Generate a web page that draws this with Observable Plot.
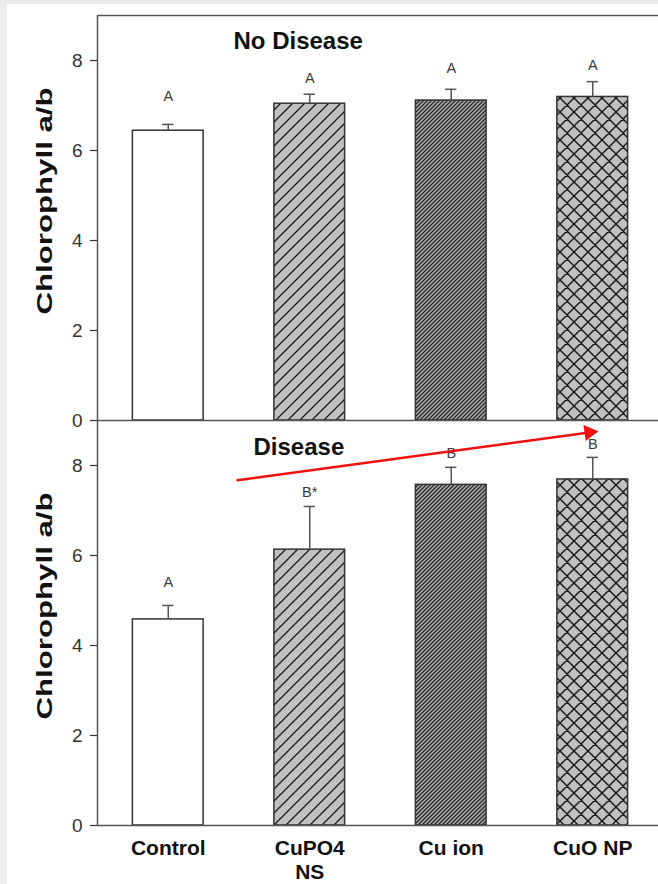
<!DOCTYPE html>
<html><head><meta charset="utf-8">
<script src="https://cdn.jsdelivr.net/npm/d3@7"></script>
<script src="https://cdn.jsdelivr.net/npm/@observablehq/plot@0.6"></script>
<style>
html,body{margin:0;padding:0;background:#ececec;}
#page{position:relative;width:658px;height:884px;overflow:hidden;background:#ececec;}
#sheet{position:absolute;left:7px;top:4px;right:0;bottom:0;background:#fff;}
#top,#bottom{position:absolute;left:0;}
#top{top:0px;}
#bottom{top:415px;}
svg text{font-family:"Liberation Sans",Arial,sans-serif;}
</style></head><body>
<div id="page"><div id="sheet"></div>
<svg width="0" height="0" style="position:absolute"><defs>
<pattern id="pw" patternUnits="userSpaceOnUse" width="12" height="12">
<rect width="12" height="12" fill="#c0c0c0"/>
<path d="M0,12L12,0M-3,3L3,-3M9,15L15,9" stroke="#1a1a1a" stroke-width="1.3"/>
</pattern>
<pattern id="pd" patternUnits="userSpaceOnUse" width="4" height="4">
<rect width="4" height="4" fill="#b0b0b0"/>
<path d="M0,4L4,0M-1,1L1,-1M3,5L5,3" stroke="#262626" stroke-width="1.3"/>
</pattern>
<pattern id="pc" patternUnits="userSpaceOnUse" width="14" height="14">
<rect width="14" height="14" fill="#c0c0c0"/>
<path d="M0,14L14,0M-3,3L3,-3M11,17L17,11M0,0L14,14M-3,11L3,17M11,-3L17,3" stroke="#1a1a1a" stroke-width="1.5"/>
</pattern>
</defs></svg>
<div id="top"></div><div id="bottom"></div></div>
<script>
const categories = ["Control", "CuPO4\nNS", "Cu ion", "CuO NP"];
const yTicks = [0, 2, 4, 6, 8];

const noDiseaseMean = [6.44, 7.04, 7.11, 7.19];
const noDiseaseErr = [0.14, 0.21, 0.25, 0.34];
const noDiseaseLetters = ["A", "A", "A", "A"];
const noDiseaseLetterY = [7.11, 7.51, 7.73, 7.78];

const diseaseMean = [4.58, 6.13, 7.57, 7.69];
const diseaseErr = [0.31, 0.96, 0.39, 0.49];
const diseaseLetters = ["A", "B*", "B", "B"];
const diseaseLetterY = [5.31, 7.29, 8.16, 8.36];

// red annotation arrow (data coordinates: category index, value)
const arrowStart = {x: 0.49, y: 7.67};
const arrowEnd = {x: 2.975, y: 8.735};

const yLabel = "Chlorophyll a/b";
const half = 0.25, cap = 0.04;
const font = "Liberation Sans, Arial, sans-serif";

function panel({mean, err, letters, letterY, title, titleDx, titleDy, bottom}) {
  const rows = categories.map((c, i) => ({i, c, m: mean[i], hi: mean[i] + err[i], L: letters[i], ly: letterY[i]}));
  const marks = [
    Plot.rectY(rows, {x1: d => d.i - half, x2: d => d.i + half, y1: 0, y2: "m", fill: "c", stroke: "#333", strokeWidth: 1.5}),
    Plot.ruleX(rows, {x: "i", y1: "m", y2: "hi", stroke: "#555", strokeWidth: 1.5}),
    Plot.ruleY(rows, {y: "hi", x1: d => d.i - cap, x2: d => d.i + cap, stroke: "#555", strokeWidth: 1.5}),
    Plot.text(rows, {x: "i", y: "ly", text: "L", fontSize: 14.5, fill: "#3a3a3a", lineAnchor: "bottom"}),
    Plot.text([title], {frameAnchor: "top-left", dx: titleDx, dy: titleDy, textAnchor: "start", lineAnchor: "top", fontSize: 24, fontWeight: "bold", fill: "#111"}),
    Plot.ruleX([-0.5], {stroke: "#555", strokeWidth: 1.5}),
    Plot.ruleY([0], {stroke: "#555", strokeWidth: 1.5}),
    Plot.axisY({ticks: yTicks, tickSize: 7, tickPadding: 8, fontSize: 19, label: null, color: "#333", strokeWidth: 1.2}),
    Plot.text([yLabel], {frameAnchor: "left", textAnchor: "middle", dx: -53, dy: -17, rotate: -90, fontWeight: "bold", fontSize: 22, fill: "#111"})
  ];
  if (!bottom) marks.push(Plot.ruleY([9], {stroke: "#555", strokeWidth: 1.5}));
  if (bottom) {
    marks.push(
      Plot.axisX({ticks: [0, 1, 2, 3], tickFormat: i => categories[i], tickSize: 0, tickPadding: 12, fontSize: 21, fontWeight: "bold", label: null, color: "#111", lineHeight: 1.15}),
      Plot.arrow([{x1: arrowStart.x, y1: arrowStart.y, x2: arrowEnd.x, y2: arrowEnd.y}], {x1: "x1", y1: "y1", x2: "x2", y2: "y2", stroke: "#f01010", strokeWidth: 2.5, headLength: 0}),
      Plot.dot([arrowEnd], {x: "x", y: "y", symbol: "triangle", r: 6, fill: "#f01010", stroke: "none", rotate: 82})
    );
  }
  const svg = Plot.plot({
    width: 658,
    height: bottom ? 469 : 425,
    marginLeft: 97, marginRight: 0,
    marginTop: bottom ? 5 : 15,
    marginBottom: bottom ? 59 : 5,
    style: {background: "transparent", overflow: "visible", fontFamily: font},
    x: {domain: [-0.5, 3.5], range: [97, 663], axis: bottom ? undefined : null},
    y: {domain: [0, 9]},
    color: {domain: categories, range: ["#ffffff", "url(#pw)", "url(#pd)", "url(#pc)"]},
    marks
  });
  // stretch the axis title along its reading direction, as in the original figure
  svg.querySelectorAll("text").forEach(t => {
    if (t.textContent === yLabel) {
      const tr = t.getAttribute("transform") || "";
      t.setAttribute("transform", tr + " scale(1.42,1)");
    }
  });
  return svg;
}

document.getElementById("top").appendChild(panel({
  mean: noDiseaseMean, err: noDiseaseErr, letters: noDiseaseLetters, letterY: noDiseaseLetterY,
  title: "No Disease", titleDx: 136, titleDy: 16, bottom: false
}));
document.getElementById("bottom").appendChild(panel({
  mean: diseaseMean, err: diseaseErr, letters: diseaseLetters, letterY: diseaseLetterY,
  title: "Disease", titleDx: 156, titleDy: 17, bottom: true
}));
</script>
</body></html>
